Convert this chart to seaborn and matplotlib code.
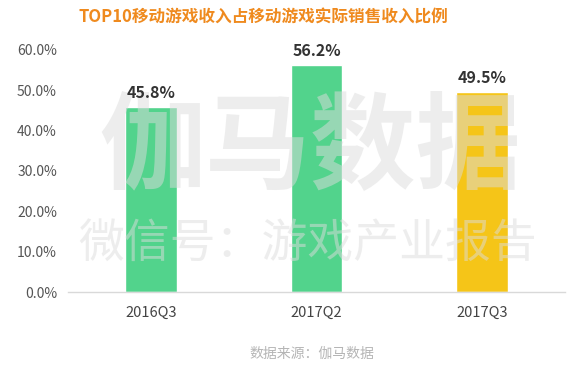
import pandas as pd
import seaborn as sns
import matplotlib
matplotlib.use('Agg')
import matplotlib.pyplot as plt

quarters = ["2016Q3", "2017Q2", "2017Q3"]
share = [45.8, 56.2, 49.5]
bar_colors = ["#52d38c", "#52d38c", "#f5c518"]
yticks = [0, 10, 20, 30, 40, 50, 60]

df = pd.DataFrame({"quarter": quarters, "share": share})

sns.set_style("white")
plt.rcParams['font.family'] = ['Noto Sans CJK SC', 'DejaVu Sans']

fig = plt.figure(figsize=(5.84, 3.71), dpi=100)
ax = fig.add_axes([68/584, 1 - 292/371, (565-68)/584, (292-50)/371])

sns.barplot(data=df, x="quarter", y="share", hue="quarter", palette=bar_colors,
            width=0.31, saturation=1, legend=False, ax=ax, zorder=2)

ax.set_ylim(0, 60)
ax.set_xlim(-0.5, 2.5)
ax.set_yticks(yticks)
ax.set_yticklabels([f"{v:.1f}%" for v in yticks], color="#555555", fontsize=10)
ax.tick_params(axis="x", labelsize=10.5, labelcolor="#444444", pad=10, length=0)
ax.tick_params(axis="y", length=0, pad=8)
ax.set_xlabel("")
ax.set_ylabel("")
for s in ["top", "right", "left"]:
    ax.spines[s].set_visible(False)
ax.spines["bottom"].set_color("#d9d9d9")
ax.spines["bottom"].set_linewidth(1)

for i, v in enumerate(share):
    ax.text(i, v + 1.5, f"{v:.1f}%", ha="center", va="bottom", fontsize=11.5,
            fontweight="bold", color="#333333", zorder=6)

# watermark (below the value labels)
ax.text(310/584, 1 - 150/371, "伽马数据", ha="center", va="center", fontsize=76,
        fontweight="bold", color="#dcdcdc", alpha=0.5, zorder=4,
        transform=fig.transFigure)
ax.text(308/584, 1 - 244/371, "微信号：游戏产业报告", ha="center", va="center", fontsize=33,
        color="#dcdcdc", alpha=0.5, zorder=4, transform=fig.transFigure)

fig.text(263/584, 1 - 18/371, "TOP10移动游戏收入占移动游戏实际销售收入比例", ha="center", va="center",
         fontsize=12, fontweight="bold", color="#ef8a1e")
fig.text(312/584, 1 - 354/371, "数据来源：伽马数据", ha="center", va="center",
         fontsize=10, color="#b5b5b5")

fig.savefig("out.png", dpi=100)
